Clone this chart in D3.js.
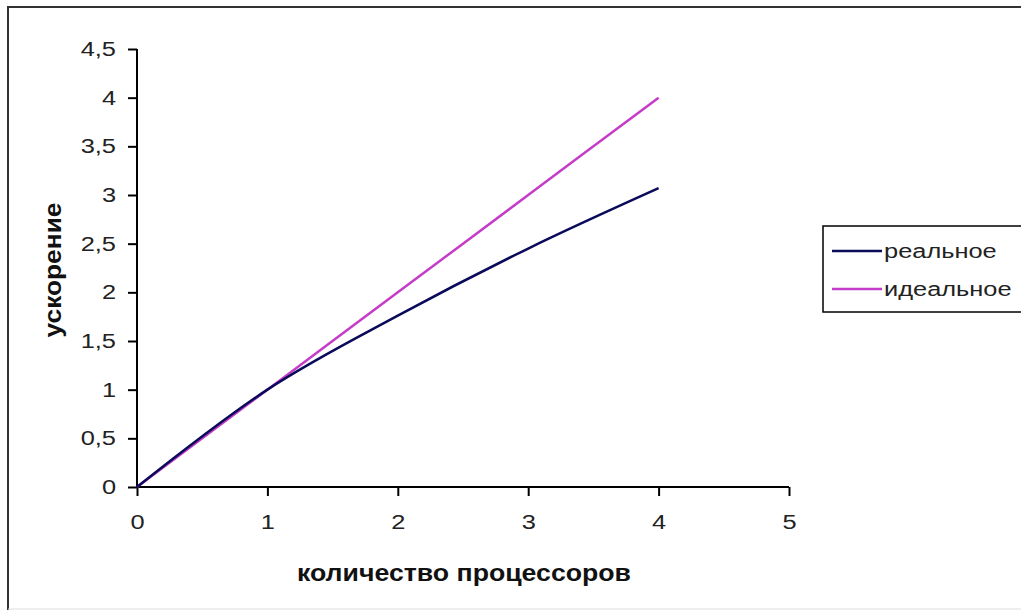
<!DOCTYPE html>
<html><head><meta charset="utf-8">
<script src="https://cdn.jsdelivr.net/npm/d3@7"></script>
<style>body{margin:0;background:#fff;} svg{display:block;}</style>
</head><body>
<script>
const xValues = [0, 1, 2, 3, 4];
const realValues = [0, 1, 1.76, 2.45, 3.07];
const idealValues = [0, 1, 2, 3, 4];
const xTicks = [0, 1, 2, 3, 4, 5];
const yTicks = [0, 0.5, 1, 1.5, 2, 2.5, 3, 3.5, 4, 4.5];
const seriesNames = ["реальное", "идеальное"];
const seriesColors = ["#0a0a5a", "#c43cc8"];
const xTitle = "количество процессоров";
const yTitle = "ускорение";

const W = 1021, H = 616;
const svg = d3.select("body").append("svg").attr("width", W).attr("height", H);
svg.append("rect").attr("width", W).attr("height", H).attr("fill", "#fff");

// outer frame
svg.append("line").attr("x1", 8).attr("y1", 7).attr("x2", 1021).attr("y2", 7).attr("stroke", "#333").attr("stroke-width", 2);
svg.append("line").attr("x1", 8).attr("y1", 6).attr("x2", 8).attr("y2", 610).attr("stroke", "#333").attr("stroke-width", 2);
svg.append("line").attr("x1", 8).attr("y1", 609).attr("x2", 1021).attr("y2", 609).attr("stroke", "#ddd").attr("stroke-width", 1);

const x = d3.scaleLinear().domain([0, 5]).range([137, 789]);
const y = d3.scaleLinear().domain([0, 4.5]).range([487, 49]);

const fmt = d => String(d).replace(".", ",");
const font = "Liberation Sans, Arial, sans-serif";
const stretch = 1.27;

function widen(sel) {
  sel.each(function () {
    const len = this.getComputedTextLength();
    d3.select(this).attr("textLength", len * stretch).attr("lengthAdjust", "spacingAndGlyphs");
  });
}

const gx = svg.append("g").attr("transform", "translate(0,487)")
  .call(d3.axisBottom(x).tickValues(xTicks).tickSize(9).tickPadding(19).tickFormat(fmt));
const gy = svg.append("g").attr("transform", "translate(137,0)")
  .call(d3.axisLeft(y).tickValues(yTicks).tickSize(9).tickPadding(12).tickFormat(fmt));
[gx, gy].forEach(g => {
  g.select(".domain").attr("stroke", "#000").attr("stroke-width", 2);
  g.selectAll(".tick line").attr("stroke", "#000").attr("stroke-width", 2);
  g.selectAll(".tick text").attr("fill", "#222").style("font-family", font).style("font-size", "20px").call(widen);
});
gx.select(".domain").attr("d", `M${x(0)},0H${x(5)}`);
gy.select(".domain").attr("d", `M0,${y(0)}V${y(4.5)}`);

const line = d3.line().x((d, i) => x(xValues[i])).y(d => y(d)).curve(d3.curveCardinal.tension(0));

svg.append("path").datum(idealValues).attr("d", line).attr("fill", "none")
  .attr("stroke", seriesColors[1]).attr("stroke-width", 2.5);
svg.append("path").datum(realValues).attr("d", line).attr("fill", "none")
  .attr("stroke", seriesColors[0]).attr("stroke-width", 2.5);

// axis titles
svg.append("text").attr("x", 464).attr("y", 581).attr("text-anchor", "middle")
  .style("font-family", font).style("font-weight", "bold").style("font-size", "23px").attr("fill", "#111")
  .text(xTitle).attr("textLength", 334).attr("lengthAdjust", "spacingAndGlyphs");
svg.append("text").attr("transform", "translate(61,270) rotate(-90)").attr("text-anchor", "middle")
  .style("font-family", font).style("font-weight", "bold").style("font-size", "23px").attr("fill", "#111")
  .text(yTitle).attr("textLength", 135).attr("lengthAdjust", "spacingAndGlyphs");

// legend
const lg = svg.append("g");
lg.append("rect").attr("x", 823).attr("y", 226).attr("width", 210).attr("height", 86)
  .attr("fill", "#fff").attr("stroke", "#000").attr("stroke-width", 1.5);
seriesNames.forEach((name, i) => {
  const yy = 251 + i * 38;
  lg.append("line").attr("x1", 832).attr("x2", 882).attr("y1", yy).attr("y2", yy)
    .attr("stroke", seriesColors[i]).attr("stroke-width", 2.5);
  lg.append("text").attr("x", 884).attr("y", yy + 7).style("font-family", font).style("font-size", "20px")
    .attr("fill", "#222").text(name).call(widen);
});
</script>
</body></html>
